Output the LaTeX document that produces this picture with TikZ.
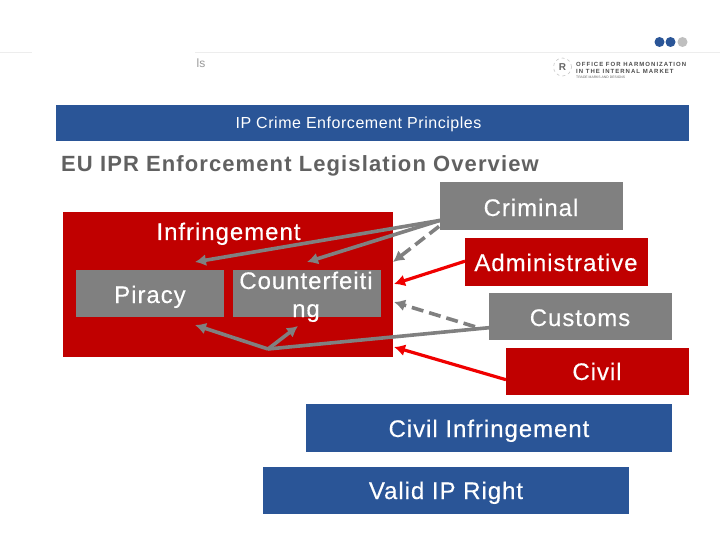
\documentclass[tikz,border=0pt]{standalone}
\usepackage{fontspec}
\setmainfont{Liberation Sans}
\usetikzlibrary{calc,arrows.meta}
\definecolor{iblue}{HTML}{2A5597}
\definecolor{ired}{HTML}{C00000}
\definecolor{igray}{HTML}{808080}
\definecolor{iarrow}{HTML}{F00000}
\newfontfamily\spaced[LetterSpace=4,FakeBold=0.3]{Liberation Sans}
\newcommand{\fs}{\fontsize{24}{24}\selectfont\spaced}
\tikzset{
  panel/.style={rectangle,draw=none,inner sep=0pt,anchor=north west},
  lbl/.style={text=white,inner sep=0pt,anchor=base},
  garrow/.style={draw=igray,line width=3.6pt,-{Latex[length=11pt,width=12pt]}},
  rarrow/.style={draw=iarrow,line width=3.2pt,-{Latex[length=11pt,width=12pt]}},
  gline/.style={draw=igray,line width=3.6pt},
  gdash/.style={garrow,dash pattern=on 12pt off 6pt},
  dot/.style={circle,inner sep=0pt,minimum size=10pt},
}
\begin{document}
\begin{tikzpicture}[x=1pt,y=-1pt]
\useasboundingbox (0,0) rectangle (720,540);
\fill[white] (0,0) rectangle (720,540);
% header rule and furniture
\coordinate (ruleA) at (0,52); \coordinate (ruleB) at (32,52);
\coordinate (ruleC) at (195,52); \coordinate (ruleD) at (720,52);
\draw[black!7,line width=.6pt] (ruleA) -- (ruleB) (ruleC) -- (ruleD);
\node[dot,fill=iblue] (d1) at (659.5,42) {};
\node[dot,fill=iblue] (d2) at (670.5,42) {};
\node[dot,fill=black!25!white,minimum width=8pt] (d3) at (682.5,42) {};
\node[text=black!40,inner sep=0pt] (frag) at (201,63) {\fontsize{12}{12}\selectfont ls};
\node[circle,draw=black!25,dashed,line width=.5pt,minimum size=18pt,inner sep=0pt,text=black!60] (lg) at (562.5,67) {\fontsize{10}{10}\selectfont\bfseries R};
\node[anchor=west,inner sep=0pt,text=black!70] (lt) at (576,64) {\fontsize{6}{7}\selectfont\bfseries\addfontfeature{LetterSpace=17}OFFICE FOR HARMONIZATION};
\node[anchor=west,inner sep=0pt,text=black!70] (lt2) at (576,71) {\fontsize{6}{7}\selectfont\bfseries\addfontfeature{LetterSpace=17}IN THE INTERNAL MARKET};
\node[anchor=west,inner sep=0pt,text=black!60] (lu) at (576,77) {\fontsize{3.4}{4}\selectfont TRADE MARKS AND DESIGNS};
% title band
\node[panel,fill=iblue,minimum width=633pt,minimum height=36pt] (band) at (56,105) {};
\node[lbl] (bandt) at (358.5,128.5) {\fontsize{16}{16}\selectfont\addfontfeature{LetterSpace=3.4}IP Crime Enforcement Principles};
\node[inner sep=0pt,anchor=base west,text=black!62] (title) at (61,172) {\fontsize{22}{22}\selectfont\bfseries\addfontfeature{LetterSpace=5}EU IPR Enforcement Legislation Overview};
% infringement block
\node[panel,fill=ired,minimum width=330pt,minimum height=145pt] (inf) at (63,212) {};
\node[lbl] (inft) at (228.5,240) {\fs Infringement};
\node[panel,fill=igray,minimum width=148pt,minimum height=47pt] (pir) at (76,270) {};
\node[lbl] at (150,303) {\fs Piracy};
\node[panel,fill=igray,minimum width=148pt,minimum height=47pt] (cou) at (233,270) {};
\node[lbl] at (306,289) {\fs Counterfeiti};
\node[lbl] at (306,317) {\fs ng};
% right column
\node[panel,fill=igray,minimum width=183pt,minimum height=48pt] (crim) at (440,182) {};
\node[lbl] at (531,216) {\fs Criminal};
\node[panel,fill=ired,minimum width=183pt,minimum height=48pt] (adm) at (465,238) {};
\node[lbl] at (556,271) {\fs Administrative};
\node[panel,fill=igray,minimum width=183pt,minimum height=47pt] (cus) at (489,293) {};
\node[lbl] at (580,326) {\fs Customs};
\node[panel,fill=ired,minimum width=183pt,minimum height=47pt] (civ) at (506,348) {};
\node[lbl] at (597,380) {\fs Civil};
% bottom blocks
\node[panel,fill=iblue,minimum width=366pt,minimum height=48pt] (cinf) at (306,404) {};
\node[lbl] at (489,437) {\fs Civil Infringement};
\node[panel,fill=iblue,minimum width=366pt,minimum height=47pt] (vip) at (263,467) {};
\node[lbl] at (446,499) {\fs Valid IP Right};
% connector ends
\coordinate (tipP1) at (195,262);
\coordinate (tipC1) at (307,262);
\coordinate (tipD1) at (393,262);
\coordinate (tipA) at (394,284);
\coordinate (tipD2) at (394,302);
\coordinate (tipC) at (394,347);
\coordinate (hub) at (268,349);
\coordinate (tipP2) at (195,325);
\coordinate (tipC2) at (298,326);
% connectors
\draw[garrow] ($(crim.south west)+(0,-10)$) -- (tipP1);
\draw[garrow] ($(crim.south west)+(0,-10)$) -- (tipC1);
\draw[gdash] ($(crim.south west)+(-1,-4)$) -- (tipD1);
\draw[rarrow] ($(adm.west)+(0,-1)$) -- (tipA);
\draw[gdash] ($(cus.west)+(-14,10)$) -- (tipD2);
\draw[gline] ($(cus.west)+(0,11)$) -- (hub);
\draw[garrow] (hub) -- (tipP2);
\draw[garrow] (hub) -- (tipC2);
\draw[rarrow] ($(civ.west)+(0,8)$) -- (tipC);
\end{tikzpicture}
\end{document}
